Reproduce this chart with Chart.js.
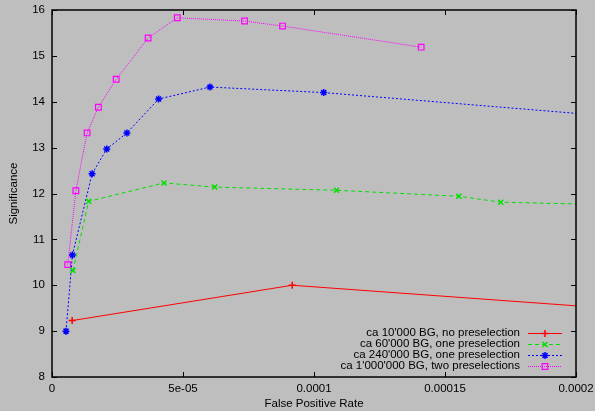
<!DOCTYPE html>
<html>
<head>
<meta charset="utf-8">
<script src="https://cdn.jsdelivr.net/npm/chart.js@4"></script>
<style>
  html, body { margin: 0; padding: 0; background: #bebebe; }
  #wrap { width: 595px; height: 411px; }
</style>
</head>
<body>
<div id="wrap"><canvas id="c" width="595" height="411"></canvas></div>
<script>
// values
const seriesNames = [
  "ca 10'000 BG, no preselection",
  "ca 60'000 BG, one preselection",
  "ca 240'000 BG, one preselection",
  "ca 1'000'000 BG, two preselections"
];
const redX = [7.7e-6, 9.17e-5, 2.1e-4];
const redY = [9.23, 10.0, 9.51];
const greenX = [8.0e-6, 1.40e-5, 4.27e-5, 6.21e-5, 1.086e-4, 1.553e-4, 1.713e-4, 2.1e-4];
const greenY = [10.32, 11.83, 12.23, 12.14, 12.07, 11.94, 11.81, 11.76];
const blueX = [5.35e-6, 7.8e-6, 1.53e-5, 2.09e-5, 2.86e-5, 4.07e-5, 6.03e-5, 1.037e-4, 2.1e-4];
const blueY = [9.0, 10.66, 12.43, 12.97, 13.32, 14.06, 14.32, 14.2, 13.70];
const magX = [6.0e-6, 9.1e-6, 1.34e-5, 1.77e-5, 2.45e-5, 3.67e-5, 4.78e-5, 7.35e-5, 8.8e-5, 1.409e-4];
const magY = [10.45, 12.06, 13.32, 13.88, 14.49, 15.39, 15.83, 15.76, 15.65, 15.19];
const xTicks = [0, 5e-5, 1e-4, 1.5e-4, 2e-4];
const xTickLabels = ['0', '5e-05', '0.0001', '0.00015', '0.0002'];
const yTicks = [8, 9, 10, 11, 12, 13, 14, 15, 16];

const colors = ['#ff0000', '#00e000', '#0000ff', '#ff00ff'];
const dashes = [[], [4, 3], [2, 2], [1, 1]];
const styles = ['cross', 'crossRot', 'star', 'rect'];
const xs = [redX, greenX, blueX, magX];
const ys = [redY, greenY, blueY, magY];

const FONT = 'Liberation Sans, Arial, sans-serif';
const FSIZE = 11.5;

const datasets = seriesNames.map((name, i) => ({
  label: name,
  data: xs[i].map((x, k) => ({ x: x, y: ys[i][k] })),
  borderColor: colors[i],
  backgroundColor: 'rgba(0,0,0,0)',
  borderWidth: 1,
  borderDash: dashes[i],
  pointStyle: styles[i],
  pointRadius: i === 3 ? 4 : 3.5,
  pointBorderColor: colors[i],
  pointBorderWidth: i === 3 ? 1.2 : 1.5,
  pointBackgroundColor: 'rgba(0,0,0,0)',
  tension: 0,
  fill: false
}));

// gnuplot style frame, inward ticks on all sides and key
const frame = {
  id: 'frame',
  afterDatasetsDraw(chart) {
    const ctx = chart.ctx;
    const a = chart.chartArea;
    const sx = chart.scales.x, sy = chart.scales.y;
    ctx.save();
    ctx.strokeStyle = '#000';
    ctx.lineWidth = 1;
    ctx.beginPath();
    xTicks.forEach(v => {
      const p = Math.round(sx.getPixelForValue(v)) + 0.5;
      ctx.moveTo(p, a.bottom); ctx.lineTo(p, a.bottom - 5);
      ctx.moveTo(p, a.top); ctx.lineTo(p, a.top + 5);
    });
    yTicks.forEach(v => {
      const p = Math.round(sy.getPixelForValue(v)) + 0.5;
      ctx.moveTo(a.left, p); ctx.lineTo(a.left + 5, p);
      ctx.moveTo(a.right, p); ctx.lineTo(a.right - 5, p);
    });
    ctx.stroke();
    ctx.lineWidth = 1.5;
    ctx.strokeRect(a.left, a.top, a.right - a.left, a.bottom - a.top);

    // key
    ctx.font = FSIZE + 'px ' + FONT;
    ctx.textAlign = 'right';
    ctx.textBaseline = 'middle';
    seriesNames.forEach((name, i) => {
      const y = 332.5 + i * 11.1;
      const yy = Math.round(y) + 0.5;
      ctx.fillStyle = '#000';
      ctx.fillText(name, 520, y);
      ctx.strokeStyle = colors[i];
      ctx.lineWidth = 1;
      ctx.setLineDash(dashes[i]);
      ctx.beginPath();
      ctx.moveTo(528, yy);
      ctx.lineTo(562, yy);
      ctx.stroke();
      ctx.setLineDash([]);
      ctx.fillStyle = 'rgba(0,0,0,0)';
      ctx.strokeStyle = colors[i];
      ctx.lineWidth = i === 3 ? 1.2 : 1.5;
      Chart.helpers.drawPoint(ctx, {
        pointStyle: styles[i],
        radius: i === 3 ? 4 : 3.5,
        borderWidth: i === 3 ? 1.2 : 1.5
      }, 545, yy);
    });
    ctx.restore();
  }
};

new Chart(document.getElementById('c'), {
  type: 'scatter',
  data: { datasets: datasets },
  options: {
    responsive: false,
    animation: false,
    showLine: true,
    layout: { padding: { left: 0, right: 19, top: 10, bottom: 0 } },
    plugins: { legend: { display: false }, tooltip: { enabled: false } },
    scales: {
      x: {
        type: 'linear',
        min: 0,
        max: 2e-4,
        grid: { display: false, drawTicks: false },
        border: { display: false },
        afterBuildTicks(scale) { scale.ticks = xTicks.map(v => ({ value: v })); },
        ticks: {
          padding: 5,
          color: '#000',
          font: { family: FONT, size: FSIZE },
          maxRotation: 0,
          callback: (v, i) => xTickLabels[i]
        },
        title: {
          display: true,
          text: 'False Positive Rate',
          color: '#000',
          font: { family: FONT, size: FSIZE },
          padding: { top: 3, bottom: 0 }
        },
        afterFit(scale) { scale.height = 34; scale.paddingLeft = 0; scale.paddingRight = 0; }
      },
      y: {
        type: 'linear',
        min: 8,
        max: 16,
        grid: { display: false, drawTicks: false },
        border: { display: false },
        afterBuildTicks(scale) { scale.ticks = yTicks.map(v => ({ value: v })); },
        ticks: {
          padding: 7,
          color: '#000',
          font: { family: FONT, size: FSIZE },
          callback: v => String(v)
        },
        title: {
          display: true,
          text: 'Significance',
          color: '#000',
          font: { family: FONT, size: FSIZE },
          padding: { top: 7, bottom: 4 }
        },
        afterFit(scale) { scale.width = 52; scale.paddingTop = 0; scale.paddingBottom = 0; }
      }
    }
  },
  plugins: [frame]
});
</script>
</body>
</html>
